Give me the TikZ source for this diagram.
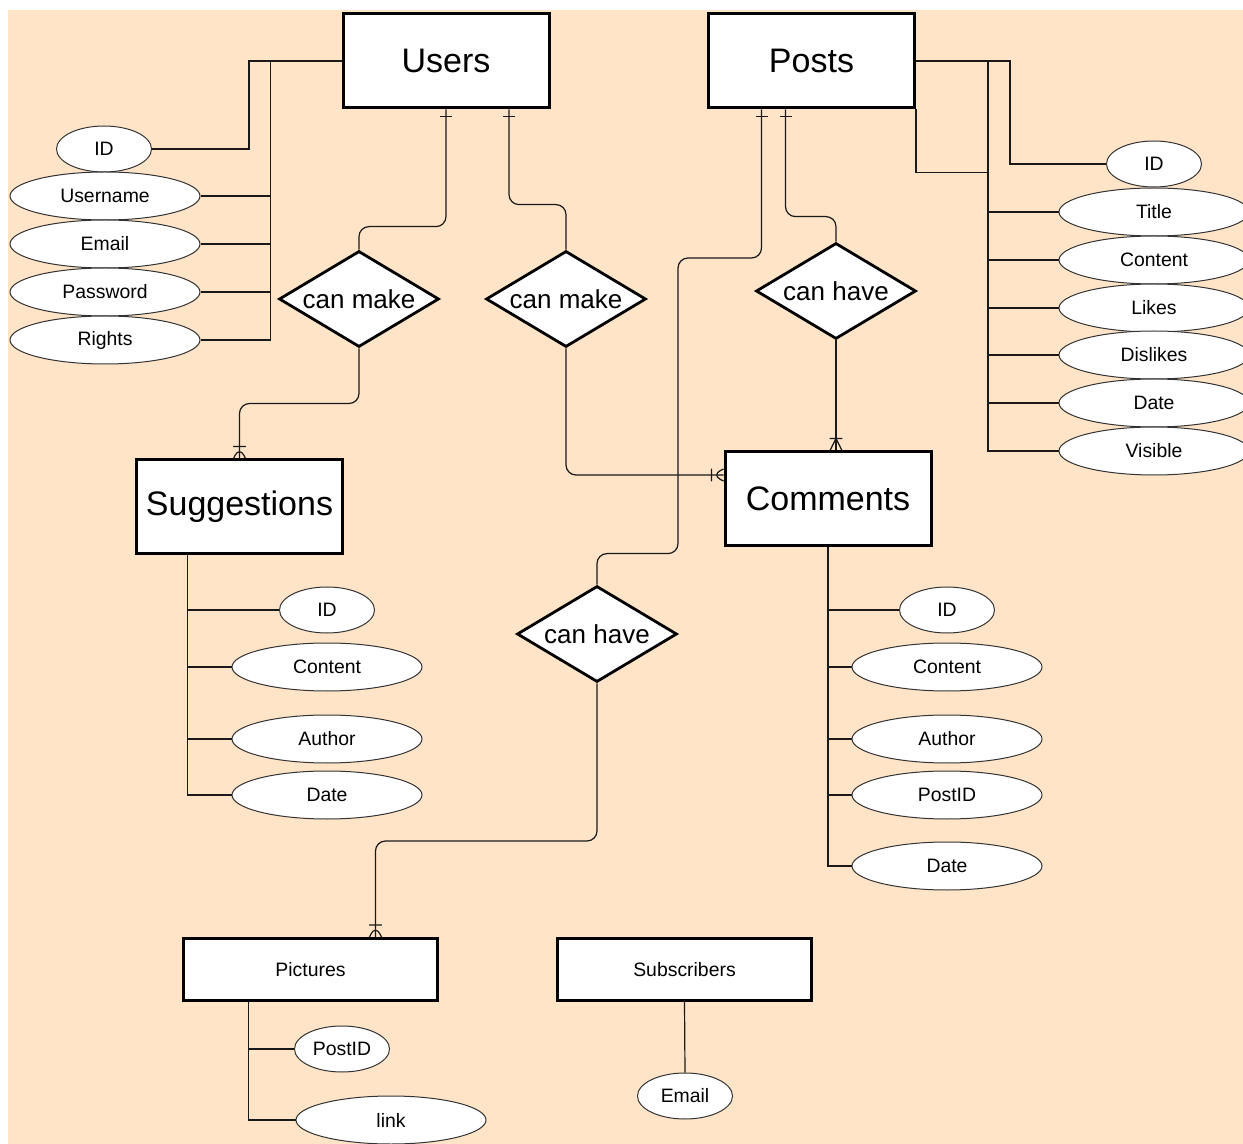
\documentclass[tikz,border=0pt]{standalone}
\usepackage{fontspec}
\setmainfont{Liberation Sans}
\usepackage{tikz}
\usetikzlibrary{shapes.geometric}
\usetikzlibrary{decorations.markings}
\definecolor{peche}{RGB}{255,228,200}

\begin{document}
\begin{tikzpicture}[x=.5pt, y=-.5pt]
	% STYLES
	\tikzstyle{entite} = [draw=black, line width=1.5pt, fill=white, minimum width=103pt, minimum height=47pt, inner sep=0pt, font=\fontsize{17}{20}\selectfont]
	\tikzstyle{petiteentite} = [entite, minimum width=127pt, minimum height=31pt, font=\fontsize{9.7}{12}\selectfont]
	\tikzstyle{relation} = [diamond, aspect=1.67, draw=black, line width=1.4pt, fill=white, minimum width=80pt, minimum height=48pt, inner sep=0pt, font=\fontsize{13}{15}\selectfont]
	\tikzstyle{attribut} = [ellipse, draw=black!80, line width=.5pt, fill=white, minimum width=47.5pt, minimum height=23pt, inner sep=0pt, font=\fontsize{9.7}{12}\selectfont]
	\tikzstyle{grandattr} = [attribut, minimum width=95pt, minimum height=24pt]
	\tikzstyle{lien} = [line width=.6pt, draw=black!90]
	\tikzstyle{coude} = [lien, rounded corners=5pt]
	\tikzstyle{un} = [postaction={decorate, decoration={markings, mark=at position 3.5pt with {\draw[line width=.6pt] (0pt,-3pt) -- (0pt,3pt);}}}]
	\tikzstyle{plusieurs} = [postaction={decorate, decoration={markings, mark=at position 1 with {\draw[line width=.6pt] (-6pt,-3.2pt) -- (-6pt,3.2pt) (0pt,-3pt) -- (-6pt,0pt) -- (0pt,3pt);}}}]

	% FOND
	\useasboundingbox (0, 0) rectangle (1243, 1144);
	\clip (0, 0) rectangle (1243, 1144);
	\fill[white] (0, 0) rectangle (1243, 1144);
	\fill[peche] (8, 10) rectangle (1243, 1144);

	% ENTITES
	\node[entite] (users) at (446, 61) {Users};
	\node[entite] (posts) at (811.5, 61) {Posts};
	\node[entite] (sug) at (239.5, 507) {Suggestions};
	\node[entite] (com) at (828, 499) {Comments};
	\node[petiteentite] (pic) at (310.5, 969.5) {Pictures};
	\node[petiteentite] (sub) at (684.5, 969.5) {Subscribers};

	% RELATIONS
	\node[relation] (cm1) at (359, 299) {can make};
	\node[relation] (cm2) at (566, 299) {can make};
	\node[relation] (ch1) at (836, 291) {can have};
	\node[relation] (ch2) at (597, 634) {can have};

	% ATTRIBUTS
	% users
	\node[attribut] (uid) at (104, 149) {ID};
	\node[grandattr] (uname) at (105, 196) {Username};
	\node[grandattr] (uemail) at (105, 244) {Email};
	\node[grandattr] (upass) at (105, 292) {Password};
	\node[grandattr] (urights) at (105, 340) {Rights};
	% posts
	\node[attribut] (pid) at (1154, 164) {ID};
	\node[grandattr] (ptitle) at (1154, 212) {Title};
	\node[grandattr] (pcontent) at (1154, 260) {Content};
	\node[grandattr] (plikes) at (1154, 308) {Likes};
	\node[grandattr] (pdislikes) at (1154, 355) {Dislikes};
	\node[grandattr] (pdate) at (1154, 403) {Date};
	\node[grandattr] (pvisible) at (1154, 451) {Visible};
	% suggestions
	\node[attribut] (sid) at (327, 610) {ID};
	\node[grandattr] (scontent) at (327, 667) {Content};
	\node[grandattr] (sauthor) at (327, 739) {Author};
	\node[grandattr] (sdate) at (327, 795) {Date};
	% comments
	\node[attribut] (cid) at (947, 610) {ID};
	\node[grandattr] (ccontent) at (947, 667) {Content};
	\node[grandattr] (cauthor) at (947, 739) {Author};
	\node[grandattr] (cpostid) at (947, 795) {PostID};
	\node[grandattr] (cdate) at (947, 866) {Date};
	% pictures
	\node[attribut] (picpostid) at (342, 1049) {PostID};
	\node[grandattr] (piclink) at (391, 1120) {link};
	% subscribers
	\node[attribut] (semail) at (685, 1096) {Email};

	% LIGNES ATTRIBUTS
	\coordinate (ubus) at ([xshift=-35.5pt]users.west);
	\draw[lien] (users.west) -| ([xshift=48.5pt]uid.east) -- (uid.east);
	\foreach \a in {uname, uemail, upass, urights}
		\draw[lien] (ubus) |- (\a.east);

	\coordinate (pbus) at ([xshift=36pt]posts.east);
	\coordinate (pjoin) at ([xshift=36pt, yshift=-31.5pt]posts.south east);
	\draw[lien] (posts.east) -| ([xshift=-48pt]pid.west) -- (pid.west);
	\draw[lien] (posts.south east) |- (pjoin);
	\foreach \a in {ptitle, pcontent, plikes, pdislikes, pdate, pvisible}
		\draw[lien] (pbus) |- (\a.west);

	\coordinate (sbus) at ([xshift=-26pt]sug.south);
	\foreach \a in {sid, scontent, sauthor, sdate}
		\draw[lien] (sbus) |- (\a.west);

	\foreach \a in {cid, ccontent, cauthor, cpostid, cdate}
		\draw[lien] (com.south) |- (\a.west);

	\coordinate (picbus) at ([xshift=-31pt]pic.south);
	\foreach \a in {picpostid, piclink}
		\draw[lien] (picbus) |- (\a.west);

	\draw[lien] (sub.south) -- (semail.north);

	% LIENS RELATIONS
	% users - suggestions
	\draw[coude, un] (users.south) |- ([yshift=11.5pt]cm1.north) -- (cm1.north);
	\draw[coude, plusieurs] (cm1.south) |- ([yshift=27.5pt]sug.north) -- (sug.north);
	% users - comments
	\draw[coude, un] ([xshift=31.5pt]users.south) |- ([yshift=22.5pt]cm2.north) -- (cm2.north);
	\draw[coude, plusieurs] (cm2.south) |- ([yshift=12pt]com.west);
	% posts - comments
	\draw[coude, un] ([xshift=-13pt]posts.south) |- ([yshift=12.5pt]ch1.north) -- (ch1.north);
	\draw[lien, plusieurs] (ch1.south) -- (ch1.south |- com.north);
	% posts - pictures
	\draw[coude, un] ([xshift=-25pt]posts.south) |- (678, 258) |- ([yshift=15.5pt]ch2.north) -- (ch2.north);
	\draw[coude, plusieurs] (ch2.south) |- ([xshift=32.5pt, yshift=48pt]pic.north) -- ([xshift=32.5pt]pic.north);

\end{tikzpicture}
\end{document}
